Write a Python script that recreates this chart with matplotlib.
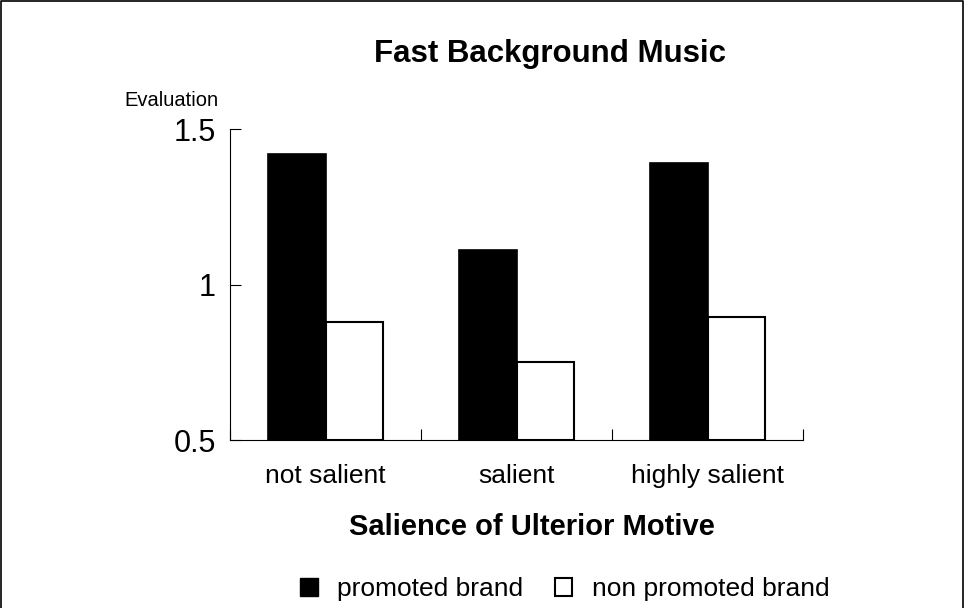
import matplotlib
matplotlib.use("Agg")
import matplotlib.pyplot as plt
import numpy as np
from matplotlib.patches import Patch
from matplotlib.lines import Line2D

plt.rcParams['font.family'] = ['Liberation Sans', 'DejaVu Sans']

# data
categories = ['not salient', 'salient', 'highly salient']
promoted = [1.42, 1.11, 1.39]
non_promoted = [0.88, 0.75, 0.895]
series_names = ['promoted brand', 'non promoted brand']

fig = plt.figure(figsize=(9.64, 6.08), dpi=100)
ax = fig.add_axes([0.2386, 0.2763, 0.5944, 0.5115])

x = np.arange(len(categories))
w = 0.3
ax.bar(x - w, np.array(promoted) - 0.5, width=w, bottom=0.5, align='edge',
       color='black', edgecolor='black', linewidth=1.2)
ax.bar(x, np.array(non_promoted) - 0.5, width=w, bottom=0.5, align='edge',
       color='white', edgecolor='black', linewidth=1.5)

ax.set_xlim(-0.5, 2.5)
ax.set_ylim(0.5, 1.5)
ax.set_yticks([0.5, 1, 1.5])
ax.set_yticklabels(['0.5', '1', '1.5'], fontsize=22)
ax.set_xticks([-0.5, 0.5, 1.5, 2.5])
ax.set_xticklabels([])
ax.set_xticks(x, minor=True)
ax.set_xticklabels(categories, minor=True, fontsize=19)
ax.tick_params(axis='both', which='major', direction='in', length=8, width=0.8)
ax.tick_params(axis='x', which='minor', length=0, pad=17)
ax.tick_params(axis='y', pad=10)
for s in ['top', 'right']:
    ax.spines[s].set_visible(False)
for s in ['left', 'bottom']:
    ax.spines[s].set_linewidth(0.8)

fig.text(550 / 964, 1 - 54 / 608, 'Fast Background Music', ha='center', va='center',
         fontsize=22.5, fontweight='bold')
fig.text(124 / 964, 1 - 100 / 608, 'Evaluation', ha='left', va='center', fontsize=14.5)
fig.text(532 / 964, 1 - 527 / 608, 'Salience of Ulterior Motive', ha='center', va='center',
         fontsize=21, fontweight='bold')

handles = [Patch(facecolor='black', edgecolor='black'),
           Patch(facecolor='white', edgecolor='black', linewidth=1.5)]
fig.legend(handles, series_names, loc='center', bbox_to_anchor=(565 / 964, 1 - 589 / 608),
           ncol=2, frameon=False, fontsize=19, handlelength=0.65, handleheight=0.65,
           columnspacing=1.2, handletextpad=0.75)

# outer frame (bottom edge cut off)
fig.add_artist(Line2D([0.001, 0.001, 0.999, 0.999], [0, 0.998, 0.998, 0],
                      transform=fig.transFigure, color='black', linewidth=1.2))

fig.savefig('out.png', dpi=100)
